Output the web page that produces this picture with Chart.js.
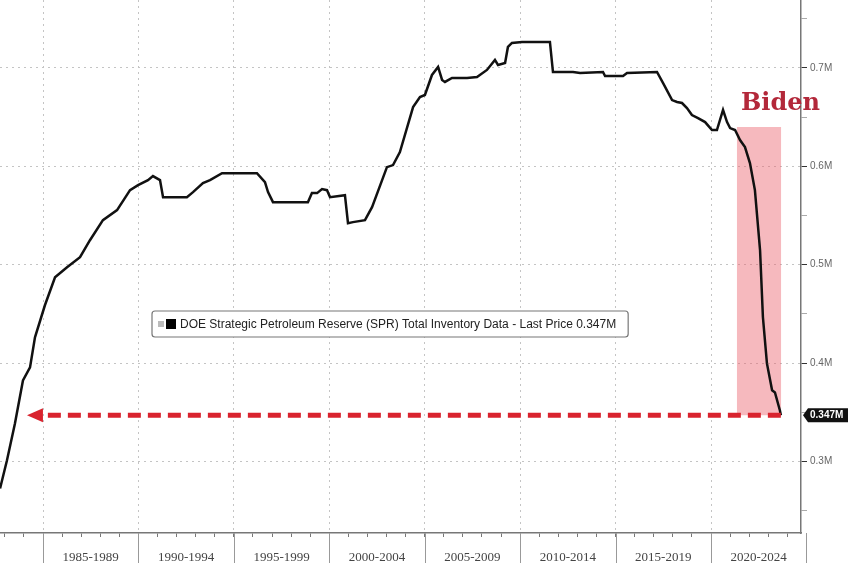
<!DOCTYPE html>
<html>
<head>
<meta charset="utf-8">
<script src="https://cdn.jsdelivr.net/npm/chart.js@4.4.1/dist/chart.umd.min.js"></script>
<style>
  html, body { margin: 0; padding: 0; background: #fff; }
  #wrap { width: 848px; height: 563px; }
</style>
</head>
<body>
<div id="wrap"><canvas id="sprChart"></canvas></div>
<script>
// SPR total inventory (axis in M, as on the terminal chart)
var years = [1982.75, 1983.11, 1983.53, 1983.95, 1984.32, 1984.58, 1985.10, 1985.63, 1986.26, 1986.94,
  1987.46, 1988.14, 1988.88, 1989.56, 1989.98, 1990.50, 1990.76, 1991.13, 1991.29, 1992.54,
  1992.86, 1993.38, 1993.75, 1994.38, 1996.21, 1996.63, 1996.79, 1997.05, 1998.88, 1999.09,
  1999.36, 1999.62, 1999.88, 2000.04, 2000.82, 2000.98, 2001.24, 2001.87, 2002.24, 2003.02,
  2003.34, 2003.70, 2004.39, 2004.75, 2005.01, 2005.38, 2005.70, 2005.91, 2006.06, 2006.43,
  2007.22, 2007.74, 2008.26, 2008.68, 2008.84, 2009.21, 2009.36, 2009.57, 2010.10, 2011.56,
  2011.72, 2012.77, 2013.14, 2014.34, 2014.45, 2015.39, 2015.60, 2017.17, 2017.49, 2017.96,
  2018.22, 2018.48, 2018.74, 2019.00, 2019.32, 2019.69, 2020.05, 2020.31, 2020.63, 2020.84,
  2021.00, 2021.26, 2021.52, 2021.78, 2022.04, 2022.30, 2022.57, 2022.72, 2022.93, 2023.20,
  2023.35, 2023.61, 2023.66];
var inventory = [0.2725, 0.3010, 0.3387, 0.3824, 0.3957, 0.4262, 0.4588, 0.4873, 0.4974, 0.5076,
  0.5249, 0.5453, 0.5555, 0.5758, 0.5809, 0.5860, 0.5901, 0.5860, 0.5687, 0.5687,
  0.5738, 0.5830, 0.5860, 0.5931, 0.5931, 0.5840, 0.5738, 0.5636, 0.5636, 0.5728,
  0.5728, 0.5769, 0.5758, 0.5687, 0.5707, 0.5422, 0.5433, 0.5453, 0.5585, 0.5992,
  0.6013, 0.6145, 0.6603, 0.6705, 0.6725, 0.6929, 0.7010, 0.6878, 0.6858, 0.6898,
  0.6898, 0.6908, 0.6980, 0.7082, 0.7031, 0.7051, 0.7214, 0.7255, 0.7265, 0.7265,
  0.6959, 0.6959, 0.6949, 0.6959, 0.6918, 0.6918, 0.6949, 0.6959, 0.6847, 0.6674,
  0.6654, 0.6644, 0.6593, 0.6522, 0.6491, 0.6450, 0.6369, 0.6369, 0.6573, 0.6450,
  0.6389, 0.6369, 0.6267, 0.6196, 0.6033, 0.5759, 0.5147, 0.4466, 0.3997, 0.3723,
  0.3702, 0.3519, 0.3470];

var yTicks = [0.25, 0.3, 0.35, 0.4, 0.45, 0.5, 0.55, 0.6, 0.65, 0.7, 0.75];
var periodStarts = [1985, 1990, 1995, 2000, 2005, 2010, 2015, 2020];
var lastPrice = 0.347;
var bidenStart = 2021.36, bidenEnd = 2023.67, bidenTop = 0.640;
var legendText = 'DOE Strategic Petroleum Reserve (SPR) Total Inventory Data - Last Price 0.347M';

var points = years.map(function (y, i) { return { x: y, y: inventory[i] }; });

function noPad(axis) {
  axis.paddingTop = 0;
  axis.paddingBottom = 0;
  axis.paddingLeft = 0;
  axis.paddingRight = 0;
}

var overlay = {
  id: 'overlay',
  beforeDatasetsDraw: function (chart) {
    var c = chart.ctx, xs = chart.scales.x, ys = chart.scales.y;
    // Biden shading
    c.save();
    c.fillStyle = 'rgba(235,100,110,0.45)';
    var x1 = xs.getPixelForValue(bidenStart), x2 = xs.getPixelForValue(bidenEnd);
    var y1 = ys.getPixelForValue(bidenTop), y2 = ys.getPixelForValue(lastPrice);
    c.fillRect(x1, y1, x2 - x1, y2 - y1);
    c.restore();
  },
  afterDatasetsDraw: function (chart) {
    var c = chart.ctx, xs = chart.scales.x, ys = chart.scales.y, a = chart.chartArea;
    c.save();

    // dashed red arrow at last price
    var ay = ys.getPixelForValue(lastPrice);
    var ax1 = xs.getPixelForValue(years[years.length - 1]);
    var tip = xs.getPixelForValue(1984.16);
    c.strokeStyle = '#d9232e';
    c.lineWidth = 5;
    c.setLineDash([13, 7]);
    c.beginPath();
    c.moveTo(ax1, ay);
    c.lineTo(tip + 14, ay);
    c.stroke();
    c.setLineDash([]);
    c.fillStyle = '#d9232e';
    c.beginPath();
    c.moveTo(tip, ay);
    c.lineTo(tip + 16, ay - 7);
    c.lineTo(tip + 16, ay + 7);
    c.closePath();
    c.fill();

    // Biden label
    c.fillStyle = '#b3283a';
    c.font = 'bold 24px "DejaVu Serif", serif';
    c.textBaseline = 'alphabetic';
    c.textAlign = 'left';
    c.fillText('Biden', 741, 110);

    // legend box
    c.font = '12px "Liberation Sans", Arial, sans-serif';
    c.textBaseline = 'middle';
    var tw = c.measureText(legendText).width;
    var bx = 152, by = 311, bh = 26, bw = tw + 40;
    c.fillStyle = '#fff';
    c.strokeStyle = '#777';
    c.lineWidth = 1.2;
    c.beginPath();
    c.roundRect(bx, by, bw, bh, 3);
    c.fill();
    c.stroke();
    c.fillStyle = '#bbb';
    c.fillRect(bx + 6, by + 10, 6, 6);
    c.fillStyle = '#000';
    c.fillRect(bx + 14, by + 8, 10, 10);
    c.fillStyle = '#222';
    c.fillText(legendText, bx + 28, by + bh / 2 + 0.5);

    // last price tag on the axis
    var tx = a.right + 2;
    c.fillStyle = '#111';
    c.beginPath();
    c.moveTo(tx, ay);
    c.lineTo(tx + 5, ay - 7);
    c.lineTo(848, ay - 7);
    c.lineTo(848, ay + 7);
    c.lineTo(tx + 5, ay + 7);
    c.closePath();
    c.fill();
    c.fillStyle = '#fff';
    c.font = 'bold 10px "Liberation Sans", Arial, sans-serif';
    c.fillText('0.347M', tx + 7, ay + 0.5);

    // period separators under the axis
    c.strokeStyle = '#999';
    c.lineWidth = 1;
    periodStarts.concat([2025]).forEach(function (p) {
      var px = Math.round(xs.getPixelForValue(p)) + 0.5;
      c.beginPath();
      c.moveTo(px, a.bottom);
      c.lineTo(px, 563);
      c.stroke();
    });
    c.restore();
  }
};

new Chart(document.getElementById('sprChart'), {
  type: 'line',
  data: {
    datasets: [{
      label: 'SPR',
      data: points,
      borderColor: '#111',
      borderWidth: 2.5,
      pointRadius: 0,
      tension: 0,
      fill: false
    }]
  },
  options: {
    responsive: true,
    maintainAspectRatio: false,
    animation: false,
    layout: { padding: 0 },
    plugins: { legend: { display: false }, tooltip: { enabled: false } },
    scales: {
      x: {
        type: 'linear',
        min: 1982.747,
        max: 2024.715,
        afterBuildTicks: function (axis) {
          var t = [];
          for (var yr = 1983; yr <= 2024; yr++) t.push({ value: yr });
          axis.ticks = t;
        },
        afterFit: function (axis) { axis.height = 30; noPad(axis); },
        grid: {
          color: function (ctx) { return ctx.tick && ctx.tick.value % 5 === 0 ? '#c4c4c4' : 'rgba(0,0,0,0)'; },
          tickColor: '#777',
          tickLength: 4,
          lineWidth: 1
        },
        border: { display: true, color: '#777', width: 1.5, dash: [2, 4] },
        ticks: {
          autoSkip: false,
          maxRotation: 0,
          labelOffset: 47.7,
          padding: 13,
          color: '#444',
          font: { family: '"Liberation Serif", serif', size: 13 },
          callback: function (v) {
            return periodStarts.indexOf(v) >= 0 ? v + '-' + (v + 4) : '';
          }
        }
      },
      y: {
        position: 'right',
        min: 0.2273,
        max: 0.7691,
        afterBuildTicks: function (axis) {
          axis.ticks = yTicks.map(function (v) { return { value: v }; });
        },
        afterFit: function (axis) { axis.width = 47; noPad(axis); },
        grid: {
          color: function (ctx) {
            return ctx.tick && Math.round(ctx.tick.value * 100) % 10 === 0 ? '#c4c4c4' : 'rgba(0,0,0,0)';
          },
          tickColor: function (ctx) {
            return ctx.tick && Math.round(ctx.tick.value * 100) % 10 === 0 ? '#333' : '#aaa';
          },
          tickLength: 6,
          lineWidth: 1
        },
        border: { display: true, color: '#777', width: 1.5, dash: [2, 4] },
        ticks: {
          padding: 3,
          color: '#666',
          font: { family: '"Liberation Sans", Arial, sans-serif', size: 10 },
          callback: function (v) {
            return Math.round(v * 100) % 10 === 0 ? (Math.round(v * 10) / 10) + 'M' : '';
          }
        }
      }
    }
  },
  plugins: [overlay]
});
</script>
</body>
</html>
